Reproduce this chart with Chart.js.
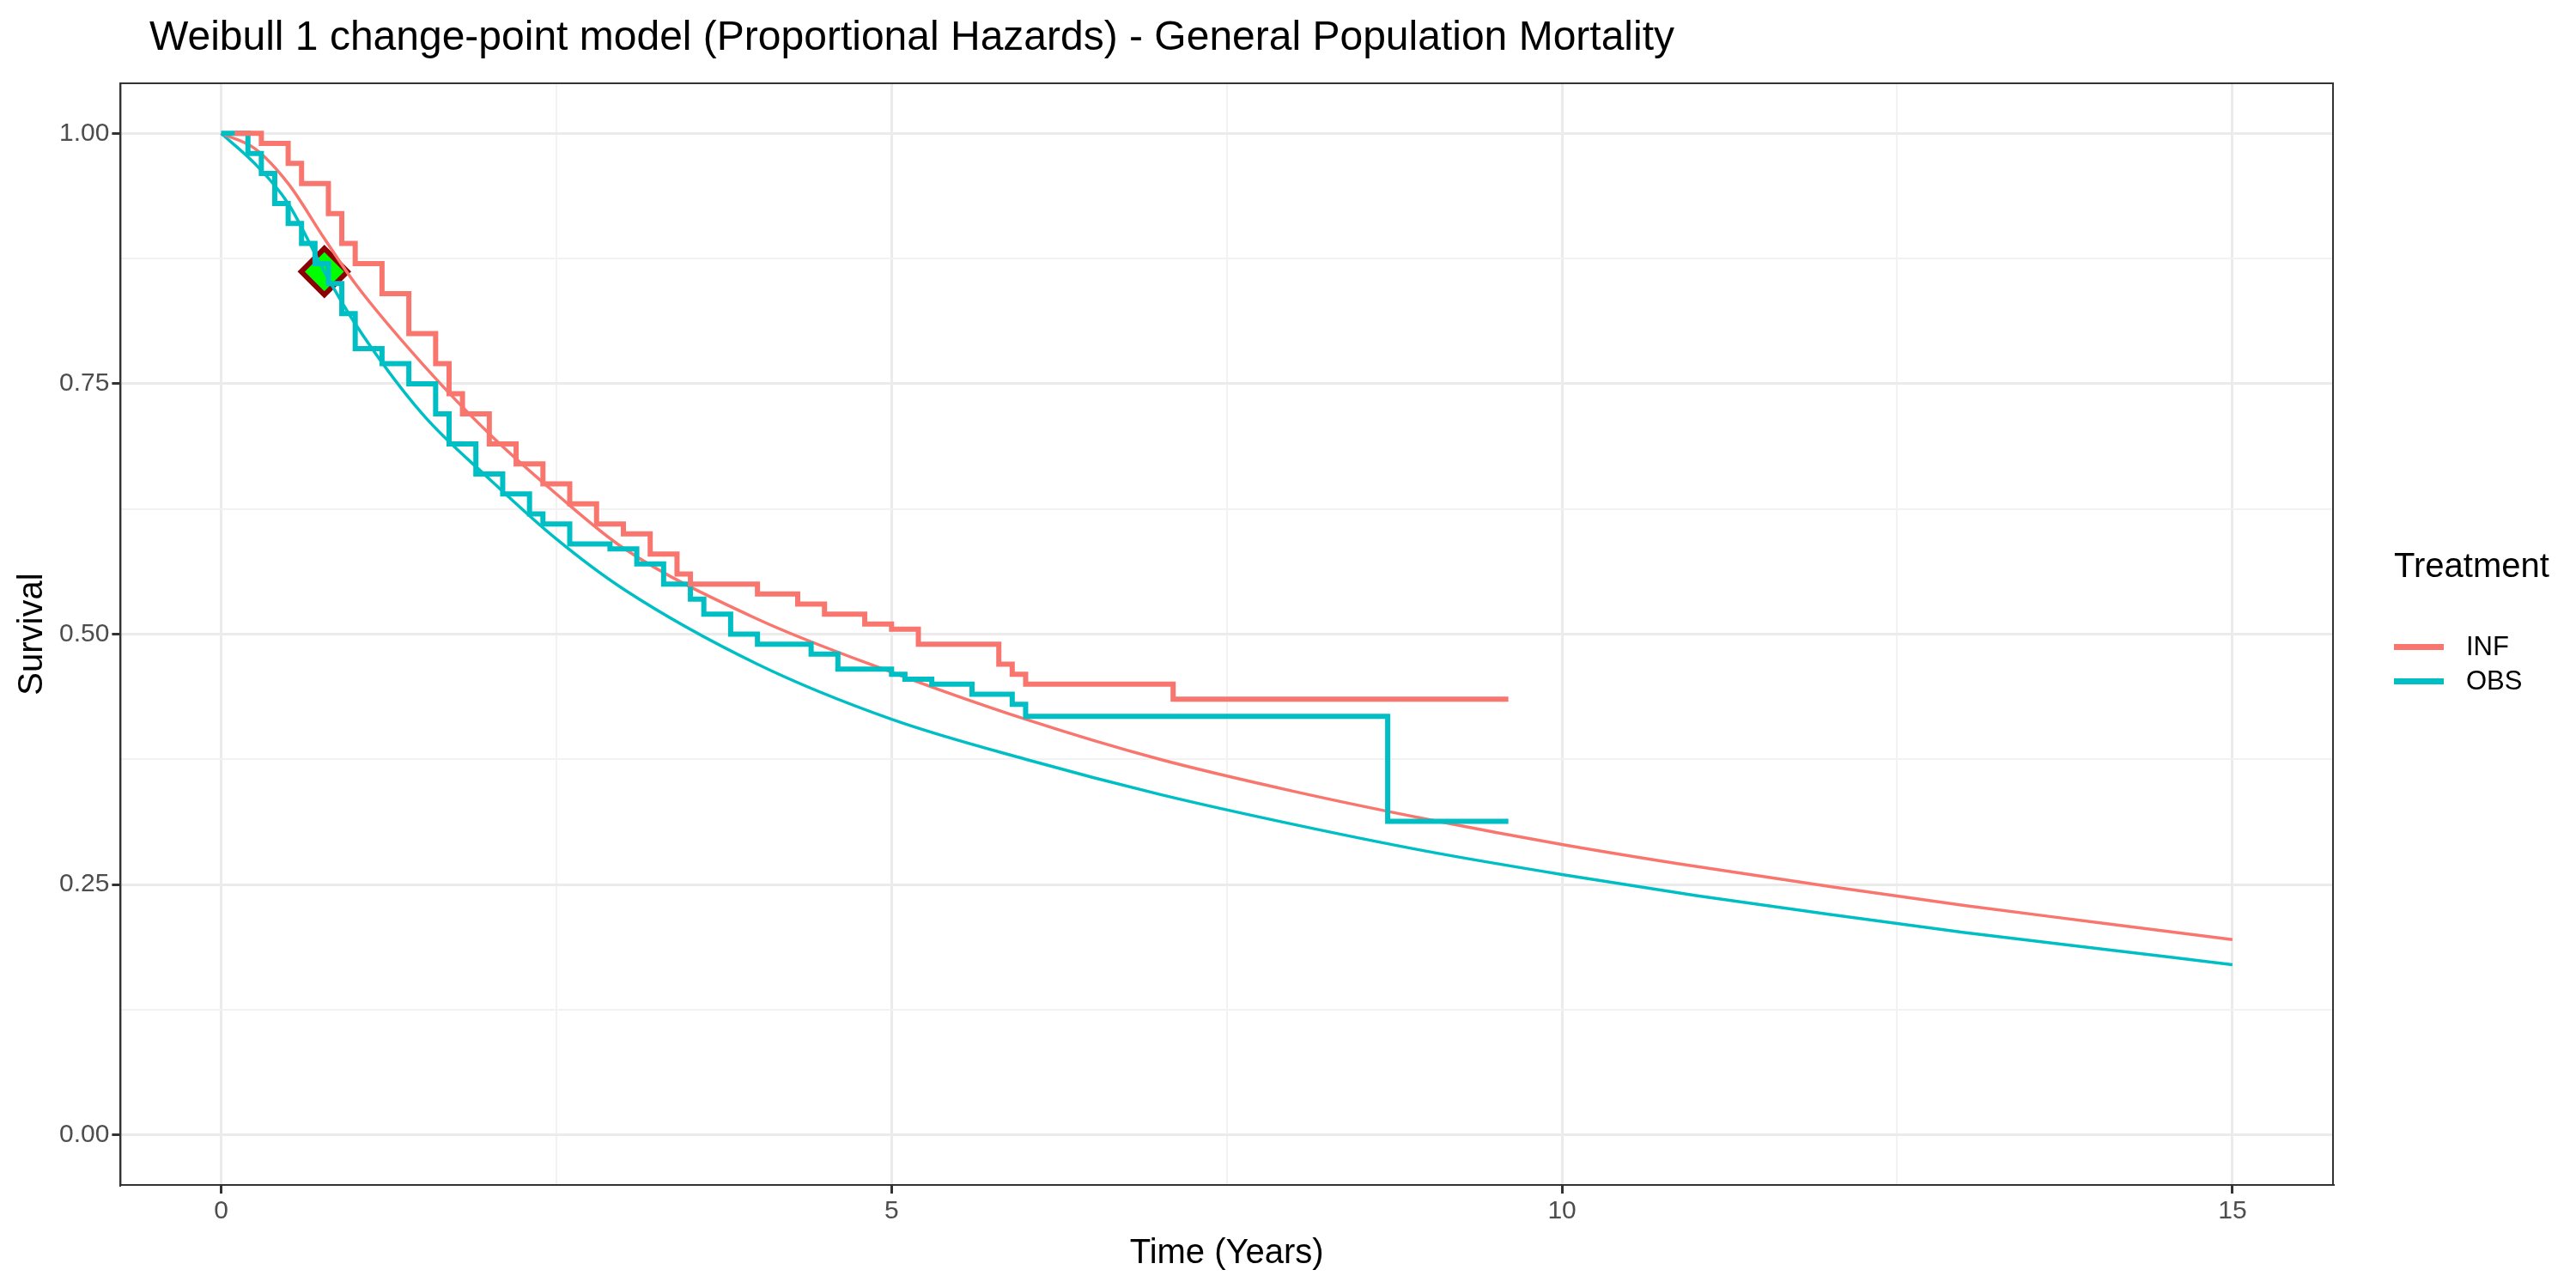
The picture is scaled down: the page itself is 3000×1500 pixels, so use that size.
<!DOCTYPE html>
<html>
<head>
<meta charset="utf-8">
<script src="https://cdn.jsdelivr.net/npm/chart.js@4/dist/chart.umd.min.js"></script>
<style>
  body { margin:0; background:#fff; font-family: "Liberation Sans", Arial, sans-serif; }
  #wrap { position:relative; width:3000px; height:1500px; }
  #title { position:absolute; left:174px; top:14px; font-size:48px; color:#000; }
  #legend { position:absolute; left:2788px; top:636px; font-size:40px; color:#000; }
  .item { display:flex; align-items:center; font-size:31px; height:40px; margin-top:0; }
  .sw { width:58px; height:7px; margin-right:26px; }
</style>
</head>
<body>
<div id="wrap">
  <canvas id="c" width="3000" height="1500"></canvas>
  <div id="title">Weibull 1 change-point model (Proportional Hazards) - General Population Mortality</div>
  <div id="legend">
    <div style="margin-bottom:52px">Treatment</div>
    <div class="item"><span class="sw" style="background:#F8766D"></span>INF</div>
    <div class="item"><span class="sw" style="background:#00BFC4"></span>OBS</div>
  </div>
</div>
<script>
// Kaplan-Meier steps (time, survival)
const infTime = [0.1,0.3,0.5,0.6,0.8,0.9,1.0,1.2,1.4,1.6,1.7,1.8,2.0,2.2,2.4,2.6,2.8,3.0,3.2,3.4,3.5,4.0,4.3,4.5,4.8,5.0,5.2,5.8,5.9,6.0,7.1,9.6];
const infSurv = [1.0,0.99,0.97,0.95,0.92,0.89,0.87,0.84,0.80,0.77,0.74,0.72,0.69,0.67,0.65,0.63,0.61,0.60,0.58,0.56,0.55,0.54,0.53,0.52,0.51,0.505,0.49,0.47,0.46,0.45,0.435,0.435];
const obsTime = [0.0,0.2,0.3,0.4,0.5,0.6,0.7,0.8,0.9,1.0,1.2,1.4,1.6,1.7,1.9,2.1,2.3,2.4,2.6,2.9,3.1,3.3,3.5,3.6,3.8,4.0,4.4,4.6,5.0,5.1,5.3,5.6,5.9,6.0,8.7,9.6];
const obsSurv = [1.0,0.98,0.96,0.93,0.91,0.89,0.87,0.85,0.82,0.785,0.77,0.75,0.72,0.69,0.66,0.64,0.62,0.61,0.59,0.585,0.57,0.55,0.535,0.52,0.50,0.49,0.48,0.465,0.46,0.455,0.45,0.44,0.43,0.418,0.313,0.313];
// fitted Weibull curves
const fitTime = [0,0.25,0.5,0.77,1,1.5,2,2.5,3,4,5,6,7,8,9,10,11,12,13,14,15];
const fitInf = [1,0.985,0.95,0.895,0.85,0.77,0.70,0.64,0.586,0.515,0.462,0.415,0.375,0.343,0.315,0.29,0.268,0.248,0.229,0.212,0.195];
const fitObs = [1,0.97,0.93,0.862,0.81,0.72,0.655,0.595,0.545,0.47,0.415,0.375,0.34,0.31,0.283,0.26,0.239,0.22,0.202,0.186,0.17];
const changePoint = [{x:0.77, y:0.862}];

const pts = (xs, ys) => xs.map((x,i) => ({x:x, y:ys[i]}));
const RED = "#F8766D", CYAN = "#00BFC4";
const isMajor = (v, m) => Math.abs(v*m - Math.round(v*m)) < 1e-6;

new Chart(document.getElementById("c"), {
  type: "line",
  data: { datasets: [
    { data: pts(infTime, infSurv), borderColor: RED, borderWidth: 6, stepped: "before", pointRadius: 0 },
    { data: pts(obsTime, obsSurv), borderColor: CYAN, borderWidth: 6, stepped: "before", pointRadius: 0 },
    { data: pts(fitTime, fitInf), borderColor: RED, borderWidth: 3.5, cubicInterpolationMode: "monotone", pointRadius: 0 },
    { data: pts(fitTime, fitObs), borderColor: CYAN, borderWidth: 3.5, cubicInterpolationMode: "monotone", pointRadius: 0 },
    { data: changePoint, showLine: false, pointStyle: "rectRot", pointRadius: 27, backgroundColor: "#00FF00", borderColor: "#8B0000", pointBorderWidth: 6 }
  ]},
  options: {
    responsive: false, animation: false, devicePixelRatio: 1,
    layout: { padding: { right: 283, top: 97, left: 10, bottom: 12 } },
    plugins: { legend: { display: false }, tooltip: { enabled: false } },
    scales: {
      x: { type: "linear", min: -0.75, max: 15.75,
        border: { color: "#333", width: 2 },
        grid: { color: c => (c.tick && isMajor(c.tick.value, 0.2)) ? "#ebebeb" : "#f2f2f2",
                lineWidth: c => (c.tick && isMajor(c.tick.value, 0.2)) ? 3 : 2, tickLength: 10,
                tickColor: c => (c.tick && isMajor(c.tick.value, 0.2)) ? "#333" : "rgba(0,0,0,0)" },
        afterBuildTicks: a => { a.ticks = [0,2.5,5,7.5,10,12.5,15].map(v => ({value:v})); },
        ticks: { color: "#4d4d4d", font: { size: 30, family: "Liberation Sans" }, callback: v => isMajor(v, 0.2) ? v : "" },
        title: { display: true, text: "Time (Years)", color: "#000", font: { size: 40, family: "Liberation Sans" } }
      },
      y: { min: -0.05, max: 1.05,
        border: { color: "#333", width: 2 },
        grid: { color: c => (c.tick && isMajor(c.tick.value, 4)) ? "#ebebeb" : "#f2f2f2",
                lineWidth: c => (c.tick && isMajor(c.tick.value, 4)) ? 3 : 2, tickLength: 10,
                tickColor: c => (c.tick && isMajor(c.tick.value, 4)) ? "#333" : "rgba(0,0,0,0)" },
        afterBuildTicks: a => { a.ticks = [0,0.125,0.25,0.375,0.5,0.625,0.75,0.875,1].map(v => ({value:v})); },
        ticks: { color: "#4d4d4d", font: { size: 30, family: "Liberation Sans" },
                 callback: v => isMajor(v, 4) ? v.toFixed(2) : "" },
        title: { display: true, text: "Survival", color: "#000", font: { size: 40, family: "Liberation Sans" } }
      }
    }
  },
  plugins: [{ id: "frame", afterDraw(ch) {
    const a = ch.chartArea, g = ch.ctx;
    g.save(); g.strokeStyle = "#333"; g.lineWidth = 2;
    g.strokeRect(a.left, a.top, a.right - a.left, a.bottom - a.top); g.restore();
  }}]
});
</script>
</body>
</html>
